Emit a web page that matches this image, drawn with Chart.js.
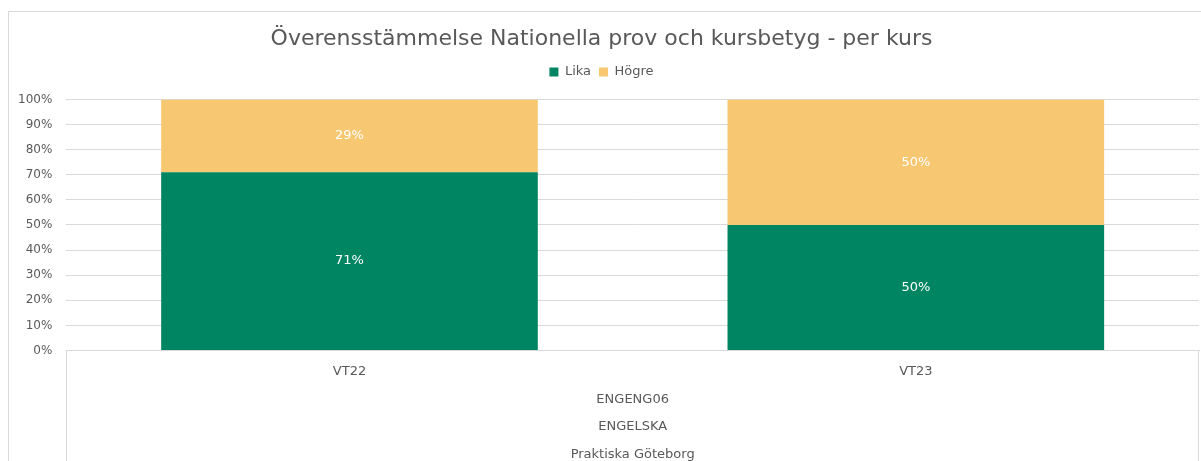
<!DOCTYPE html>
<html>
<head>
<meta charset="utf-8">
<script src="https://cdn.jsdelivr.net/npm/chart.js@4/dist/chart.umd.min.js"></script>
<style>
  html, body { margin: 0; padding: 0; background: #fff; overflow: hidden; }
  #wrap { width: 1201px; height: 461px; overflow: hidden; position: relative; }
  #inner { width: 1201px; height: 468px; position: absolute; left: 0; top: 0; }
</style>
</head>
<body>
<div id="wrap"><div id="inner"><canvas id="kursChart"></canvas></div></div>
<script>
var terms = ["VT22", "VT23"];
var likaValues = [71, 50];
var hogreValues = [29, 50];
var groupLabels = ["ENGENG06", "ENGELSKA", "Praktiska Göteborg"];
var chartTitle = "Överensstämmelse Nationella prov och kursbetyg - per kurs";

var fontFam = "'DejaVu Sans', sans-serif";
var textGrey = "#595959";

// white percent labels in the middle of each bar piece
var barLabels = {
  id: "barLabels",
  afterDatasetsDraw: function(chart) {
    var ctx = chart.ctx;
    ctx.save();
    ctx.fillStyle = "#ffffff";
    ctx.font = "13px " + fontFam;
    ctx.textAlign = "center";
    ctx.textBaseline = "middle";
    chart.data.datasets.forEach(function(ds, i) {
      chart.getDatasetMeta(i).data.forEach(function(bar, j) {
        var mid = (bar.y + bar.base) / 2;
        ctx.fillText(ds.data[j] + "%", bar.x, mid);
      });
    });
    ctx.restore();
  }
};

// a bit more room under the legend
var legendGap = {
  id: "legendGap",
  beforeInit: function(chart) {
    var origFit = chart.legend.fit;
    chart.legend.fit = function() {
      origFit.bind(chart.legend)();
      this.height += 11;
    };
  }
};

// chart frame + the box around the category axis
var frames = {
  id: "frames",
  beforeDraw: function(chart) {
    var ctx = chart.ctx;
    var a = chart.chartArea;
    ctx.save();
    ctx.strokeStyle = "#d9d9d9";
    ctx.lineWidth = 1;
    ctx.strokeRect(8.5, 11.5, 1200, 470);
    ctx.beginPath();
    ctx.moveTo(Math.round(a.left) + 0.5, a.bottom);
    ctx.lineTo(Math.round(a.left) + 0.5, chart.height);
    ctx.moveTo(Math.round(a.right) - 0.5, a.bottom);
    ctx.lineTo(Math.round(a.right) - 0.5, chart.height);
    ctx.stroke();
    ctx.restore();
  }
};

var chartData = {
  labels: terms,
  datasets: [
    {
      label: "Lika",
      data: likaValues,
      backgroundColor: "#008562",
    },
    {
      label: "Högre",
      data: hogreValues,
      backgroundColor: "#F7C771",
    },
  ],
};

var chartConfig = {
  type: "bar",
  data: chartData,
  plugins: [barLabels, legendGap, frames],
  options: {
    responsive: true,
    maintainAspectRatio: false,
    animation: false,
    layout: { padding: { top: 12, left: 4, right: 2, bottom: 0 } },
    datasets: {
      bar: { categoryPercentage: 0.665, barPercentage: 1.0 }
    },
    plugins: {
      title: {
        display: true,
        text: chartTitle,
        color: textGrey,
        font: { family: fontFam, size: 22, weight: "normal" },
        padding: { top: 14, bottom: 5 },
      },
      legend: {
        display: true,
        position: "top",
        labels: {
          color: textGrey,
          font: { family: fontFam, size: 13 },
          boxWidth: 9,
          boxHeight: 9,
          padding: 8,
        },
      },
      tooltip: { enabled: false },
    },
    scales: {
      x: {
        stacked: true,
        grid: { display: false, drawTicks: false },
        border: { display: true, color: "#d9d9d9" },
        ticks: {
          color: textGrey,
          font: { family: fontFam, size: 13 },
          padding: 13,
        },
        title: {
          display: true,
          text: groupLabels,
          color: textGrey,
          font: { family: fontFam, size: 13, lineHeight: 2.1 },
          padding: { top: -6, bottom: 0 },
        },
      },
      y: {
        stacked: true,
        min: 0,
        max: 100,
        ticks: {
          stepSize: 10,
          color: textGrey,
          font: { family: fontFam, size: 12 },
          padding: 14,
          callback: function(v) { return v + "%"; },
        },
        grid: { color: "#d9d9d9", drawTicks: false },
        border: { display: false },
      },
    },
  },
};

var kursChart = new Chart(document.getElementById("kursChart"), chartConfig);
</script>
</body>
</html>
